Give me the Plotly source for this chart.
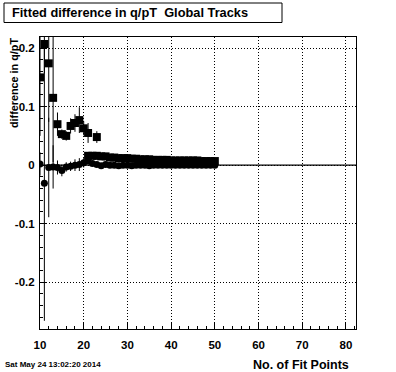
import plotly.graph_objects as go

# ---- data ----
sq_a_x = [10, 11, 12, 13, 14, 15, 16, 17, 18, 19, 20, 21, 23]
sq_a_y = [0.150, 0.207, 0.174, 0.115, 0.070, 0.053, 0.050, 0.067, 0.072, 0.077, 0.063, 0.055, 0.048]
sq_a_err = [0.10, 0.05, 0.10, 0.11, 0.020, 0.008, 0.008, 0.013, 0.015, 0.022, 0.012, 0.017, 0.010]

sq_b_x = list(range(21, 51))
sq_b_y = [0.016, 0.016, 0.016, 0.015, 0.015, 0.013, 0.013, 0.012, 0.012, 0.012,
          0.011, 0.011, 0.010, 0.010, 0.010, 0.009, 0.009, 0.009, 0.009, 0.008,
          0.008, 0.008, 0.008, 0.008, 0.008, 0.008, 0.007, 0.007, 0.007, 0.007]

circ_x = list(range(10, 51))
circ_y = [0.002, -0.031, -0.004, -0.003, -0.004, -0.009, -0.003, -0.002, 0.000, 0.001,
          0.004, 0.007, 0.003, 0.001, -0.001, 0.001, 0.000, 0.000, -0.001, 0.000,
          0.000, -0.001, 0.000, 0.000, 0.000, -0.001, 0.000, 0.000, 0.000, 0.000,
          0.000, 0.000, 0.000, 0.000, 0.000, 0.000, 0.000, 0.000, 0.000, 0.000, 0.000]
circ_err = [0.020, 0.235, 0.085, 0.037, 0.012, 0.010, 0.008, 0.008, 0.010, 0.011,
            0.008, 0.006, 0.004, 0.003, 0.003, 0.003, 0.003, 0.003, 0.003, 0.003,
            0.003, 0.003, 0.003, 0.003, 0.003, 0.003, 0.003, 0.003, 0.003, 0.003,
            0.003, 0.003, 0.003, 0.003, 0.003, 0.003, 0.003, 0.003, 0.003, 0.003, 0.003]

fit_x = [10, 83]
fit_y = [0.0, 0.0]

x_tick_vals = [10, 20, 30, 40, 50, 60, 70, 80]
x_tick_text = ["10", "20", "30", "40", "50", "60", "70", "80"]
y_tick_vals = [-0.2, -0.1, 0.0, 0.1, 0.2]
y_tick_text = ["-0.2", "-0.1", "0", "0.1", "0.2"]

title_text = "Fitted difference in q/pT\u00a0 Global Tracks"
x_title = "No. of Fit Points"
y_title = "difference in q/pT"
date_text = "Sat May 24 13:02:20 2014"

# ---- layout geometry ----
W, H = 396, 372
ML, MR, MT, MB = 40, 40, 37, 43
PW, PH = W - ML - MR, H - MT - MB

def px(xp):
    return (xp - ML) / PW

def py(yp):
    return (H - MB - yp) / PH

FONT = "Liberation Sans, Arial, Helvetica, sans-serif"

fig = go.Figure()
fig.add_trace(go.Scatter(x=fit_x, y=fit_y, mode="lines",
                         line=dict(color="black", width=1.3), hoverinfo="skip"))
fig.add_trace(go.Scatter(x=sq_a_x, y=sq_a_y, mode="markers",
                         marker=dict(symbol="square", size=8, color="black"),
                         error_y=dict(type="data", array=sq_a_err, color="black",
                                      thickness=1, width=0)))
fig.add_trace(go.Scatter(x=sq_b_x, y=sq_b_y, mode="markers",
                         marker=dict(symbol="square", size=8, color="black")))
fig.add_trace(go.Scatter(x=circ_x, y=circ_y, mode="markers",
                         marker=dict(symbol="circle", size=7, color="black"),
                         error_y=dict(type="data", array=circ_err, color="black",
                                      thickness=1, width=0)))

fig.update_layout(
    width=W, height=H,
    margin=dict(l=ML, r=MR, t=MT, b=MB, pad=0),
    paper_bgcolor="white", plot_bgcolor="white",
    showlegend=False,
    font=dict(family=FONT, color="black", size=11, weight="bold"),
)

fig.update_xaxes(
    range=[10, 82.3], showline=True, linecolor="black", linewidth=1, mirror=True,
    tickvals=x_tick_vals, ticktext=x_tick_text,
    ticks="inside", ticklen=6, tickcolor="black", tickwidth=1,
    minor=dict(dtick=2, tick0=10, ticks="inside", ticklen=3, tickcolor="black", showgrid=False),
    showgrid=True, gridcolor="black", griddash="1px,2px", gridwidth=1,
    zeroline=False, ticklabelstandoff=5,
    tickfont=dict(family=FONT, size=11.5, weight="bold"),
)
fig.update_yaxes(
    range=[-0.28, 0.219], showline=True, linecolor="black", linewidth=1, mirror=True,
    tickvals=y_tick_vals, ticktext=y_tick_text,
    ticks="inside", ticklen=6, tickcolor="black", tickwidth=1,
    minor=dict(dtick=0.02, tick0=0, ticks="inside", ticklen=3, tickcolor="black", showgrid=False),
    showgrid=True, gridcolor="black", griddash="1px,2px", gridwidth=1,
    zeroline=False, ticklabelstandoff=2,
    tickfont=dict(family=FONT, size=11.5, weight="bold"),
)

# title box
fig.add_shape(type="rect", xref="paper", yref="paper",
              x0=px(4), x1=px(282), y0=py(22.5), y1=py(3),
              line=dict(color="black", width=1), fillcolor="white")
fig.add_annotation(xref="paper", yref="paper", x=px(10), y=py(12.7),
                   xanchor="left", yanchor="middle", showarrow=False,
                   text=title_text, font=dict(family=FONT, size=12.8, weight="bold"))
# axis titles
fig.add_annotation(xref="paper", yref="paper", x=px(351), y=py(365),
                   xanchor="right", yanchor="middle", showarrow=False,
                   text=x_title, font=dict(family=FONT, size=12.5, weight="bold"))
fig.add_annotation(xref="paper", yref="paper", x=px(14), y=py(36),
                   xanchor="center", yanchor="top", showarrow=False, textangle=-90,
                   text=y_title, font=dict(family=FONT, size=10.8, weight="bold"))
# date
fig.add_annotation(xref="paper", yref="paper", x=px(3), y=py(364),
                   xanchor="left", yanchor="middle", showarrow=False,
                   text=date_text, font=dict(family=FONT, size=8, weight="bold"))

fig.write_html("out.html")
